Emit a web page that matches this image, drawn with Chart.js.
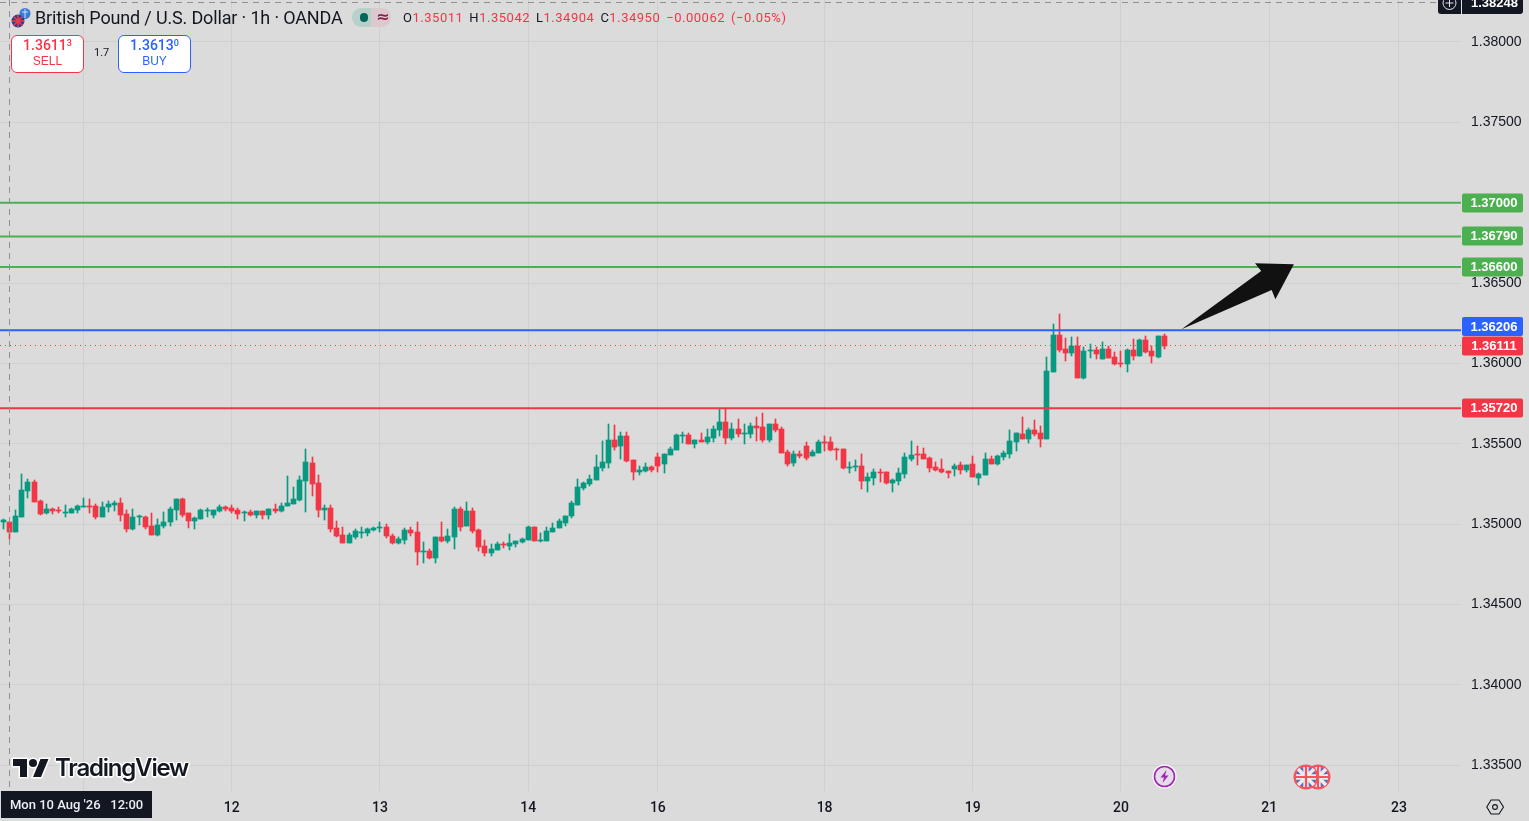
<!DOCTYPE html>
<html>
<head>
<meta charset="utf-8">
<title>GBPUSD</title>
<script src="https://cdn.jsdelivr.net/npm/chart.js@4"></script>
<style>
html,body{margin:0;padding:0;background:#dbdbdb;width:1529px;height:821px;overflow:hidden;font-family:"Liberation Sans",Arial,sans-serif}
#c{position:absolute;left:0;top:0;width:1529px;height:821px}
.t{position:absolute;white-space:nowrap}
.btn{position:absolute;top:35px;width:71px;height:34px;background:#fff;border-radius:6px;text-align:center;font-size:13px;line-height:15px;padding-top:2px}
sup{font-size:9px;line-height:0;vertical-align:4px}
svg{position:absolute;overflow:visible}
</style>
</head>
<body>
<canvas id="c" width="1529" height="821"></canvas>

<svg style="left:11px;top:7px" width="20" height="21" viewBox="0 0 20 21">
 <circle cx="14" cy="6.5" r="5.5" fill="#3a7bd5"/><path d="M11 5h6M14 2v9" stroke="#cfe0f7" stroke-width="1"/>
 <circle cx="7" cy="14" r="6.5" fill="#27408b"/><path d="M1 14h12M7 8v12M2.5 9.5l9 9M11.5 9.5l-9 9" stroke="#f23645" stroke-width="1.6"/>
</svg>
<div class="t" style="left:35px;top:7px;font:18px/22px Roboto,sans-serif;color:#131722;letter-spacing:-.16px">British Pound / U.S. Dollar · 1h · OANDA</div>
<div class="t" style="left:352px;top:8px;width:19px;height:19px;background:#b7d0ca;border-radius:9px 0 0 9px"></div>
<div class="t" style="left:371px;top:8px;width:20px;height:19px;background:#dcc9cd;border-radius:0 9px 9px 0"></div>
<div class="t" style="left:360px;top:13px;width:8px;height:9px;border-radius:5px;background:#00665c"></div>
<div class="t" style="left:376px;top:7px;font:bold 16px/20px 'DejaVu Sans',sans-serif;color:#8a1c50">≈</div>
<div class="t" id="ohlc" style="left:403px;top:10px;font:13px/16px Roboto,sans-serif;color:#f23645;letter-spacing:.52px;word-spacing:2.2px"><span style="color:#131722">O</span>1.35011 <span style="color:#131722">H</span>1.35042 <span style="color:#131722">L</span>1.34904 <span style="color:#131722">C</span>1.34950 −0.00062 (−0.05%)</div>

<div class="btn" style="left:11px;border:1px solid #f23645;color:#f23645"><span style="font:500 14px/15px Roboto">1.3611<sup>3</sup></span><br><span style="font-size:12px">SELL</span></div>
<div class="t" style="left:94px;top:46px;font:11px/14px Roboto,sans-serif;color:#131722">1.7</div>
<div class="btn" style="left:118px;border:1px solid #2962ff;color:#2962ff"><span style="font:500 14px/15px Roboto">1.3613<sup>0</sup></span><br><span style="font-size:12px">BUY</span></div>

<svg style="left:13px;top:759px" width="36" height="18" viewBox="0 4 36 18">
 <g fill="#131722" stroke="#fff" stroke-width="3" paint-order="stroke"><path d="M14 22H7V11H0V4h14v18zM28 22h-8l7.5-18h8L28 22z"/><circle cx="20" cy="8" r="4"/></g>
</svg>
<div class="t" style="left:55px;top:753px;font:600 24px/30px Inter,Roboto,sans-serif;letter-spacing:-1.2px;color:#131722;text-shadow:-1.5px 0 #fff,1.5px 0 #fff,0 -1.5px #fff,0 1.5px #fff,-1px -1px #fff,1px 1px #fff,-1px 1px #fff,1px -1px #fff">TradingView</div>

<svg style="left:1152px;top:764px" width="25" height="25" viewBox="0 0 25 25">
 <circle cx="12.5" cy="12.5" r="12" fill="#fff"/><circle cx="12.5" cy="12.5" r="10" fill="#e6dbe8" stroke="#9c27b0" stroke-width="1.6"/>
 <path d="M14.5 6l-6 7.5h3.5l-1.5 5.5 6-7.5h-3.5z" fill="#9c27b0"/>
</svg>
<svg style="left:1293px;top:764px" width="38" height="26" viewBox="0 0 38 26" id="flags">
 <defs><g id="uk"><circle cx="0" cy="0" r="11.3" fill="#4a74c4" stroke="#f7525f" stroke-width="2.4"/><path d="M-8-8L8 8M8-8L-8 8" stroke="#f0eaec" stroke-width="3.6"/><path d="M-10 0H10M0-10V10" stroke="#f0eaec" stroke-width="5.4"/><path d="M-10 0H10M0-10V10" stroke="#f7525f" stroke-width="2.2"/></g></defs>
 <use href="#uk" x="25" y="13"/><use href="#uk" x="13" y="13"/>
</svg>
<svg style="left:1486px;top:798px" width="18" height="18" viewBox="0 0 18 18">
 <path d="M5 2h8l4.5 7-4.5 7H5L.8 9z" fill="none" stroke="#131722" stroke-width="1.1"/><circle cx="9" cy="9" r="2.4" fill="none" stroke="#131722" stroke-width="1.1"/>
</svg>

<script>
const opens=[1.35015,1.35013,1.34952,1.35046,1.35208,1.35262,1.35143,1.35069,1.35093,1.35087,
1.35071,1.35069,1.35087,1.35106,1.35112,1.35112,1.35044,1.35106,1.35118,1.35131,
1.35062,1.34969,1.35044,1.35044,1.34988,1.34932,1.34988,1.35013,1.35087,1.35156,
1.35069,1.35019,1.35031,1.35081,1.35056,1.35081,1.35106,1.35100,1.35087,1.35071,
1.35075,1.35056,1.35081,1.35056,1.35093,1.35081,1.35112,1.35125,1.35149,1.35268,
1.35380,1.35255,1.35087,1.35100,1.34975,1.34932,1.34882,1.34919,1.34944,1.34944,
1.34963,1.34975,1.34981,1.34925,1.34882,1.34900,1.34963,1.34950,1.34826,1.34832,
1.34788,1.34919,1.34894,1.34919,1.35093,1.34988,1.35081,1.34963,1.34863,1.34820,
1.34838,1.34876,1.34863,1.34876,1.34888,1.34900,1.34981,1.34894,1.34894,1.34950,
1.34975,1.35006,1.35050,1.35118,1.35224,1.35249,1.35274,1.35349,1.35380,1.35523,
1.35486,1.35548,1.35398,1.35324,1.35330,1.35355,1.35417,1.35374,1.35430,1.35461,
1.35548,1.35554,1.35498,1.35523,1.35511,1.35535,1.35585,1.35635,1.35535,1.35591,
1.35560,1.35560,1.35610,1.35604,1.35523,1.35623,1.35591,1.35448,1.35380,1.35436,
1.35486,1.35423,1.35442,1.35511,1.35511,1.35467,1.35467,1.35349,1.35355,1.35361,
1.35268,1.35286,1.35324,1.35324,1.35255,1.35268,1.35311,1.35405,1.35436,1.35436,
1.35411,1.35355,1.35342,1.35330,1.35342,1.35367,1.35336,1.35374,1.35286,1.35305,
1.35405,1.35374,1.35417,1.35436,1.35511,1.35560,1.35529,1.35585,1.35567,1.35528,
1.35946,1.36176,1.36089,1.36064,1.36107,1.35908,1.36076,1.36082,1.36026,1.36089,
1.36039,1.36002,1.35995,1.36082,1.36045,1.36145,1.36076,1.36039,1.36170];
const highs=[1.35029,1.35013,1.35087,1.35311,1.35280,1.35274,1.35149,1.35125,1.35100,1.35106,
1.35118,1.35100,1.35118,1.35162,1.35156,1.35125,1.35137,1.35143,1.35143,1.35162,
1.35087,1.35093,1.35056,1.35050,1.35069,1.35031,1.35075,1.35106,1.35156,1.35162,
1.35069,1.35044,1.35093,1.35100,1.35087,1.35118,1.35112,1.35118,1.35100,1.35081,
1.35087,1.35081,1.35081,1.35093,1.35125,1.35131,1.35299,1.35230,1.35299,1.35467,
1.35417,1.35305,1.35118,1.35118,1.35019,1.34981,1.34944,1.34969,1.34981,1.34975,
1.34981,1.35013,1.35000,1.34938,1.34919,1.34975,1.34981,1.35013,1.34888,1.34844,
1.34919,1.35013,1.34969,1.35106,1.35106,1.35137,1.35100,1.34969,1.34900,1.34876,
1.34888,1.34888,1.34938,1.34894,1.34913,1.34988,1.34981,1.34944,1.34981,1.35006,
1.35031,1.35050,1.35143,1.35280,1.35262,1.35305,1.35430,1.35517,1.35623,1.35616,
1.35573,1.35573,1.35398,1.35361,1.35380,1.35361,1.35442,1.35436,1.35479,1.35560,
1.35573,1.35567,1.35523,1.35567,1.35591,1.35610,1.35716,1.35716,1.35629,1.35654,
1.35623,1.35629,1.35666,1.35691,1.35623,1.35654,1.35604,1.35461,1.35455,1.35455,
1.35511,1.35461,1.35523,1.35548,1.35542,1.35473,1.35467,1.35386,1.35398,1.35436,
1.35318,1.35342,1.35342,1.35324,1.35280,1.35349,1.35442,1.35517,1.35486,1.35473,
1.35417,1.35386,1.35405,1.35330,1.35374,1.35386,1.35367,1.35423,1.35318,1.35442,
1.35423,1.35430,1.35455,1.35585,1.35567,1.35666,1.35598,1.35647,1.35610,1.36039,
1.36244,1.36307,1.36157,1.36163,1.36163,1.36101,1.36120,1.36101,1.36132,1.36107,
1.36070,1.36076,1.36089,1.36151,1.36151,1.36170,1.36107,1.36170,1.36182];
const lows=[1.34969,1.34907,1.34952,1.35046,1.35162,1.35139,1.35056,1.35062,1.35062,1.35069,
1.35044,1.35069,1.35069,1.35106,1.35069,1.35031,1.35044,1.35075,1.35081,1.35019,
1.34950,1.34963,1.34994,1.34969,1.34932,1.34925,1.34975,1.34988,1.35025,1.35044,
1.34975,1.34969,1.35031,1.35044,1.35037,1.35075,1.35081,1.35069,1.35031,1.35019,
1.35050,1.35037,1.35031,1.35031,1.35069,1.35075,1.35112,1.35125,1.35143,1.35075,
1.35174,1.35044,1.35025,1.34950,1.34919,1.34882,1.34882,1.34907,1.34913,1.34925,
1.34957,1.34950,1.34913,1.34876,1.34876,1.34876,1.34925,1.34745,1.34757,1.34782,
1.34757,1.34888,1.34882,1.34844,1.34957,1.34988,1.34944,1.34832,1.34801,1.34801,
1.34838,1.34851,1.34838,1.34857,1.34882,1.34900,1.34894,1.34888,1.34894,1.34950,
1.34975,1.34988,1.35037,1.35118,1.35212,1.35237,1.35274,1.35330,1.35349,1.35461,
1.35405,1.35386,1.35274,1.35305,1.35324,1.35324,1.35324,1.35318,1.35430,1.35461,
1.35504,1.35498,1.35473,1.35511,1.35498,1.35511,1.35548,1.35498,1.35523,1.35542,
1.35498,1.35535,1.35517,1.35511,1.35511,1.35573,1.35442,1.35361,1.35361,1.35411,
1.35398,1.35423,1.35442,1.35455,1.35455,1.35398,1.35342,1.35318,1.35330,1.35218,
1.35199,1.35243,1.35262,1.35249,1.35199,1.35243,1.35286,1.35392,1.35367,1.35405,
1.35324,1.35330,1.35318,1.35286,1.35299,1.35311,1.35324,1.35293,1.35243,1.35305,
1.35374,1.35367,1.35398,1.35411,1.35455,1.35529,1.35504,1.35548,1.35479,1.35528,
1.35946,1.36070,1.36014,1.36045,1.35908,1.35902,1.36033,1.36026,1.36026,1.36033,
1.35989,1.35977,1.35946,1.36020,1.36045,1.36064,1.36002,1.36033,1.36089];
const closes=[1.35023,1.34952,1.35050,1.35212,1.35262,1.35139,1.35064,1.35093,1.35083,1.35079,
1.35077,1.35093,1.35112,1.35112,1.35106,1.35044,1.35106,1.35125,1.35131,1.35056,
1.34969,1.35044,1.35050,1.34981,1.34932,1.34994,1.35013,1.35093,1.35156,1.35056,
1.35019,1.35037,1.35087,1.35087,1.35087,1.35106,1.35093,1.35081,1.35062,1.35077,
1.35056,1.35081,1.35056,1.35093,1.35081,1.35112,1.35131,1.35156,1.35274,1.35386,
1.35249,1.35087,1.35100,1.34969,1.34925,1.34882,1.34932,1.34957,1.34950,1.34969,
1.34975,1.34981,1.34925,1.34882,1.34907,1.34963,1.34944,1.34826,1.34832,1.34788,
1.34919,1.34894,1.34925,1.35093,1.34981,1.35081,1.34957,1.34857,1.34820,1.34844,
1.34876,1.34869,1.34882,1.34894,1.34907,1.34981,1.34894,1.34900,1.34957,1.34975,
1.35019,1.35050,1.35131,1.35230,1.35255,1.35280,1.35355,1.35386,1.35523,1.35479,
1.35548,1.35392,1.35324,1.35336,1.35355,1.35336,1.35361,1.35436,1.35467,1.35554,
1.35554,1.35498,1.35523,1.35511,1.35542,1.35591,1.35635,1.35535,1.35591,1.35560,
1.35567,1.35610,1.35598,1.35523,1.35623,1.35585,1.35442,1.35374,1.35436,1.35423,
1.35411,1.35448,1.35511,1.35504,1.35461,1.35461,1.35349,1.35355,1.35361,1.35268,
1.35293,1.35324,1.35318,1.35255,1.35274,1.35318,1.35417,1.35430,1.35430,1.35405,
1.35349,1.35336,1.35324,1.35318,1.35361,1.35336,1.35367,1.35293,1.35311,1.35405,
1.35374,1.35423,1.35442,1.35517,1.35567,1.35529,1.35585,1.35560,1.35529,1.35952,
1.36176,1.36082,1.36064,1.36107,1.35908,1.36076,1.36082,1.36058,1.36089,1.36033,
1.35995,1.35995,1.36082,1.36045,1.36145,1.36070,1.36045,1.36170,1.36111];

const dayTickIndex=[13,37,61,85,106,133,157,181,205,226];
const dayTickLabels=['11','12','13','14','16','18','19','20','21','23'];
const priceTicks=[1.335,1.34,1.345,1.35,1.355,1.36,1.365,1.37,1.375,1.38];
const levelPrices=[1.37,1.3679,1.366,1.36206,1.3572];
const levelColors=['#4caf50','#4caf50','#4caf50','#2962ff','#f23645'];
const lastPrice=1.36111;
const crosshairIndex=1, crosshairPrice=1.38248;
const crosshairDate="Mon 10 Aug '26   12:00";
const arrowIndex=[190.8,205.4,206,209,202.7,203.7];
const arrowPrice=[1.36212,1.36456,1.36399,1.36616,1.36623,1.36575];

const GREEN='#089981',RED='#f23645';
const idx=opens.map((_,i)=>i);
const cols=idx.map(i=>closes[i]>=opens[i]?GREEN:RED);
const XMIN=-0.534,XMAX=236.06,YMAX=1.382614,YMIN=1.333382;
const lineData=p=>[{x:XMIN,y:p},{x:XMAX,y:p}];
const noPad=s=>{s.paddingTop=s.paddingBottom=s.paddingLeft=s.paddingRight=0};

// Snap the library's bar elements to whole pixels so candles are crisp
const crisp={
 id:'crisp',
 beforeDatasetsDraw(ch){
  ch.getSortedVisibleDatasetMetas().forEach(m=>{
   if(m.type!=='bar')return;
   m.data.forEach(e=>{
    e.x=Math.floor(e.x)+.5;
    const t=Math.round(Math.min(e.y,e.base));let b=Math.round(Math.max(e.y,e.base));
    if(b<=t)b=t+1;
    e.y=t;e.base=b;e.height=b-t;
   });
  });
 }
};

const overlay={
 id:'overlay',
 afterDraw(ch){
  const g=ch.ctx,X=ch.scales.x,Y=ch.scales.y,a=ch.chartArea;
  g.save();
  g.strokeStyle='#8d8f94';g.lineWidth=1;g.setLineDash([6,5]);
  const cx=Math.round(X.getPixelForValue(crosshairIndex))+.5,cy=Math.round(Y.getPixelForValue(crosshairPrice))+.5;
  g.beginPath();g.moveTo(cx,0);g.lineTo(cx,a.bottom);g.moveTo(0,cy);g.lineTo(a.right,cy);g.stroke();g.setLineDash([]);
  g.fillStyle='#111';g.beginPath();
  arrowIndex.forEach((v,i)=>{const x=X.getPixelForValue(v),y=Y.getPixelForValue(arrowPrice[i]);i?g.lineTo(x,y):g.moveTo(x,y)});
  g.closePath();g.fill();
  const tag=(p,c,shift)=>{const y=Math.round(Y.getPixelForValue(p))+shift;g.fillStyle=c;g.beginPath();g.roundRect(1462,y-9.5,61,19,2);g.fill();
    g.fillStyle='#fff';g.font='bold 13px "Liberation Sans"';g.textAlign='center';g.textBaseline='middle';g.fillText(p.toFixed(5),1494,y+.5)};
  levelPrices.forEach((p,i)=>tag(p,levelColors[i],p===1.36206?-3.5:0));
  tag(lastPrice,RED,0);
  g.fillStyle='#131722';g.beginPath();g.roundRect(1438,-6,85,20,3);g.fill();
  g.strokeStyle='#e0e3eb';g.lineWidth=1;g.beginPath();g.arc(1449.5,3,6.5,0,7);g.moveTo(1445.5,3);g.lineTo(1453.5,3);g.moveTo(1449.5,-1);g.lineTo(1449.5,7);g.stroke();
  g.beginPath();g.moveTo(1461.5,-6);g.lineTo(1461.5,14);g.stroke();
  g.fillStyle='#fff';g.font='bold 13px "Liberation Sans"';g.textAlign='left';g.textBaseline='middle';g.fillText(crosshairPrice.toFixed(5),1471,3);
  g.fillStyle='#131722';g.fillRect(1,791,151,27);
  g.fillStyle='#eceef2';g.font='500 13px Roboto';g.fillText(crosshairDate,10,806);
  g.restore();
 }
};

new Chart(document.getElementById('c'),{
 type:'bar',
 data:{datasets:[
  ...levelPrices.map((p,i)=>({type:'line',data:lineData(p),borderColor:levelColors[i],borderWidth:2,pointRadius:0,order:0})),
  {type:'line',data:lineData(lastPrice),borderColor:RED,borderWidth:1,borderDash:[1,4],pointRadius:0,order:0},
  {data:idx.map(i=>({x:i,y:[opens[i],closes[i]]})),backgroundColor:cols,barThickness:5,minBarLength:1,grouped:false,order:1},
  {data:idx.map(i=>({x:i,y:[lows[i],highs[i]]})),backgroundColor:cols,barThickness:1,grouped:false,order:2}
 ]},
 plugins:[crisp,overlay],
 options:{
  responsive:false,animation:false,devicePixelRatio:1,
  layout:{padding:0},
  plugins:{legend:{display:false},tooltip:{enabled:false}},
  scales:{
   x:{type:'linear',offset:false,min:XMIN,max:XMAX,
    grid:{offset:false,color:'#cfcfcf',drawTicks:false},border:{display:false},
    afterBuildTicks(s){s.ticks=dayTickIndex.map(v=>({value:v}))},
    afterFit(s){s.height=30;noPad(s)},
    ticks:{autoSkip:false,maxRotation:0,padding:9,color:'#131722',font:{family:'Roboto',size:14,weight:'500'},
     callback:v=>dayTickLabels[dayTickIndex.indexOf(v)]}},
   y:{type:'linear',position:'right',min:YMIN,max:YMAX,
    grid:{color:'#cfcfcf',drawTicks:false},border:{display:false},
    afterBuildTicks(s){s.ticks=priceTicks.map(v=>({value:v}))},
    afterFit(s){s.width=68;noPad(s)},
    ticks:{autoSkip:false,padding:10,color:'#131722',font:{family:'Liberation Sans',size:14},
     callback:v=>Number(v).toFixed(5)}}
  }
 }
});
</script>
</body>
</html>
